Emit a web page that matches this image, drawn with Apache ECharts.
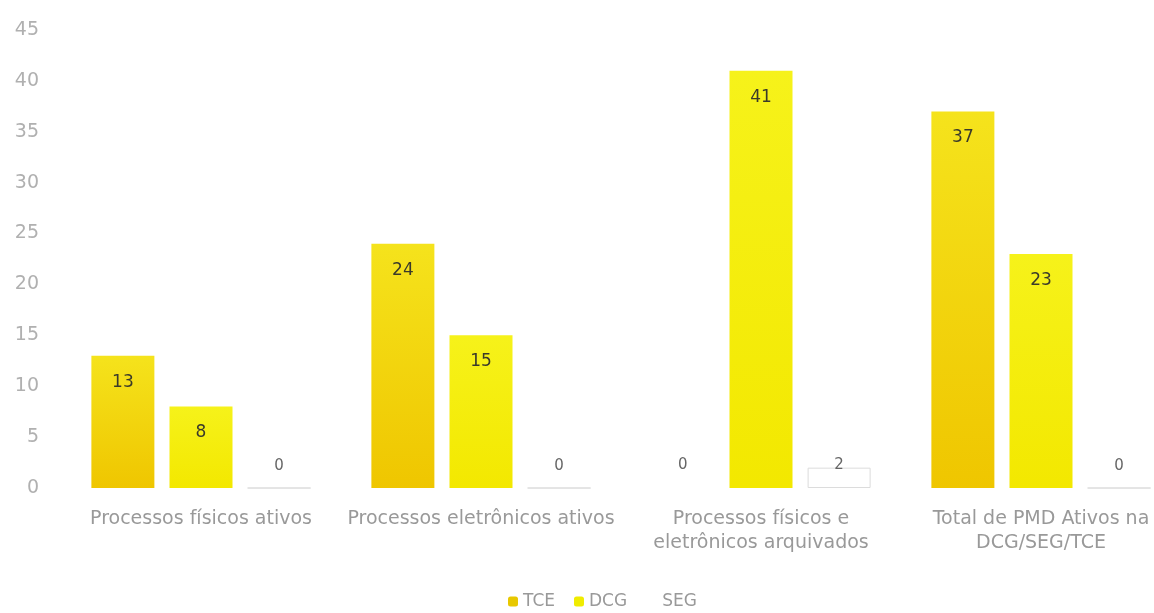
<!DOCTYPE html>
<html><head><meta charset="utf-8">
<script src="https://cdn.jsdelivr.net/npm/echarts@6/dist/echarts.min.js"></script>
<style>html,body{margin:0;padding:0;background:#fff}#c{width:1154px;height:613px}</style>
</head><body><div id="c"></div>
<script>
const categories = ['Processos físicos ativos', 'Processos eletrônicos ativos', 'Processos físicos e\neletrônicos arquivados', 'Total de PMD Ativos na\nDCG/SEG/TCE'];
const seriesNames = ['TCE', 'DCG', 'SEG'];
const tceValues = [13, 24, 0, 37];
const dcgValues = [8, 15, 41, 23];
const segValues = [0, 0, 2, 0];
const yTicks = [0, 5, 10, 15, 20, 25, 30, 35, 40, 45];

const chart = echarts.init(document.getElementById('c'));
const FONT = 'DejaVu Sans';
const lowLabel = {show: true, position: 'insideBottom', distance: 15, color: '#666', fontSize: 15};
function items(vals, forceLow) {
  return vals.map(v => (forceLow || v < 3) ? {value: v, label: lowLabel} : v);
}
const labelBase = {show: true, position: 'insideTop', distance: 18, color: '#3a3a2a', fontSize: 17, fontFamily: FONT};
chart.setOption({
  animation: false,
  backgroundColor: '#fff',
  grid: {left: 61, right: -27, top: 30, bottom: 125, outerBoundsMode: 'none', containLabel: false},
  legend: {
    bottom: -2, left: 503, itemWidth: 10, itemHeight: 10, itemGap: 19,
    textStyle: {color: '#999', fontSize: 17, fontFamily: FONT},
    data: [{name: 'TCE', itemStyle: {color: '#e8c800'}}, {name: 'DCG', itemStyle: {color: '#f0ec00'}}, {name: 'SEG', itemStyle: {color: '#fff', borderColor: '#fff'}}]
  },
  xAxis: {
    type: 'category', data: categories,
    axisLine: {show: false}, axisTick: {show: false},
    axisLabel: {color: '#999', fontSize: 19, lineHeight: 24, margin: 19, fontFamily: FONT, interval: 0}
  },
  yAxis: {
    type: 'value', min: 0, max: 45, interval: 5,
    splitLine: {show: false}, axisLine: {show: false}, axisTick: {show: false},
    axisLabel: {color: '#b0b0b0', fontSize: 19, margin: 22, fontFamily: FONT,
      formatter: v => yTicks.includes(v) ? String(v) : ''}
  },
  series: [
    {name: seriesNames[0], type: 'bar', barWidth: 63, barGap: '24%', data: items(tceValues),
      itemStyle: {color: new echarts.graphic.LinearGradient(0, 0, 0, 1, [{offset: 0, color: '#f5e31c'}, {offset: 1, color: '#efc600'}])},
      label: labelBase},
    {name: seriesNames[1], type: 'bar', barWidth: 63, barGap: '24%', data: items(dcgValues),
      itemStyle: {color: new echarts.graphic.LinearGradient(0, 0, 0, 1, [{offset: 0, color: '#f6f21a'}, {offset: 1, color: '#f3e800'}])},
      label: labelBase},
    {name: seriesNames[2], type: 'bar', barWidth: 63, barGap: '24%', data: items(segValues, true),
      itemStyle: {color: '#fff', borderColor: '#dcdcdc', borderWidth: 1},
      label: Object.assign({}, labelBase, lowLabel)}
  ]
});
</script></body></html>
